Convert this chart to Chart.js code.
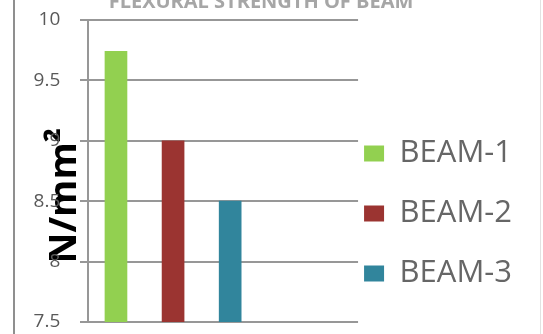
<!DOCTYPE html>
<html>
<head>
<meta charset="utf-8">
<script src="https://cdn.jsdelivr.net/npm/chart.js@4.4.1/dist/chart.umd.min.js"></script>
<style>
  html, body { margin: 0; padding: 0; background: #fff; }
  #wrap { position: relative; width: 543px; height: 334px; }
  #frame {
    position: absolute; left: 13px; top: 0; width: 528px; height: 334px;
    border-left: 2px solid #8f8f8f; border-right: 1px solid #e2e2e2;
    box-sizing: border-box; pointer-events: none;
  }
</style>
</head>
<body>
<div id="wrap">
  <canvas id="chart"></canvas>
  <div id="frame"></div>
</div>
<script>
const chartTitle = 'FLEXURAL STRENGTH OF BEAM';
const axisTitle = 'N/mm²';
const beams = ['BEAM-1', 'BEAM-2', 'BEAM-3'];
const strength = [9.74, 9.0, 8.5];
const beamColors = ['#92D050', '#9B3431', '#31859C'];
const yTicks = [7.5, 8, 8.5, 9, 9.5, 10];

const font = 'Open Sans';

// bars sit on a linear x axis (1, 2, 3) so the plot can run on past them
const points = beams.map((b, i) => ({ x: i + 1, y: strength[i] }));

const ctx = document.getElementById('chart').getContext('2d');
new Chart(ctx, {
    type: 'bar',
    data: {
        datasets: [{
            label: 'Strength',
            data: points,
            backgroundColor: beamColors,
            borderWidth: 0,
            barThickness: 22
        }]
    },
    options: {
        responsive: true,
        maintainAspectRatio: false,
        animation: false,
        layout: { padding: { top: 0, left: 0, right: 21, bottom: 12 } },
        scales: {
            x: {
                type: 'linear',
                display: false,
                offset: false,
                min: 0.51,
                max: 5.24
            },
            y: {
                min: 7.5,
                max: 10,
                afterBuildTicks: (s) => { s.ticks = yTicks.map(v => ({ value: v })); },
                afterFit: (s) => { s.width = 88; },
                ticks: {
                    padding: 0,
                    color: '#595959',
                    font: { family: font, size: 19 },
                    // trailing spaces give the gap before the tick marks
                    // (ticks.padding would also push the plot down)
                    callback: (v) => String(v) + '    '
                },
                grid: { color: '#979797', lineWidth: 2, tickLength: 8 },
                border: { color: '#979797', width: 2 },
                title: {
                    display: true,
                    text: axisTitle + '     ',
                    color: '#000',
                    font: { family: font, size: 38, weight: 'bold' },
                    padding: { top: 42, bottom: 0 }
                }
            }
        },
        plugins: {
            tooltip: { enabled: false },
            title: {
                display: true,
                text: chartTitle,
                color: '#a6a6a6',
                font: { family: font, size: 20, weight: 'bold' },
                padding: { top: -10, bottom: 6 }
            },
            legend: {
                position: 'right',
                align: 'center',
                maxWidth: 220,
                title: { display: true, text: '', padding: { top: 116, bottom: 0 }, font: { size: 10 } },
                labels: {
                    boxWidth: 20,
                    boxHeight: 16,
                    padding: 6,
                    color: '#1a1a1a',
                    font: { family: font, size: 31, lineHeight: 54 / 31 },
                    generateLabels: () => beams.map((b, i) => ({
                        text: [b],
                        fillStyle: beamColors[i],
                        strokeStyle: beamColors[i],
                        lineWidth: 0,
                        hidden: false,
                        index: i,
                        datasetIndex: 0
                    }))
                }
            }
        }
    }
});
</script>
</body>
</html>
